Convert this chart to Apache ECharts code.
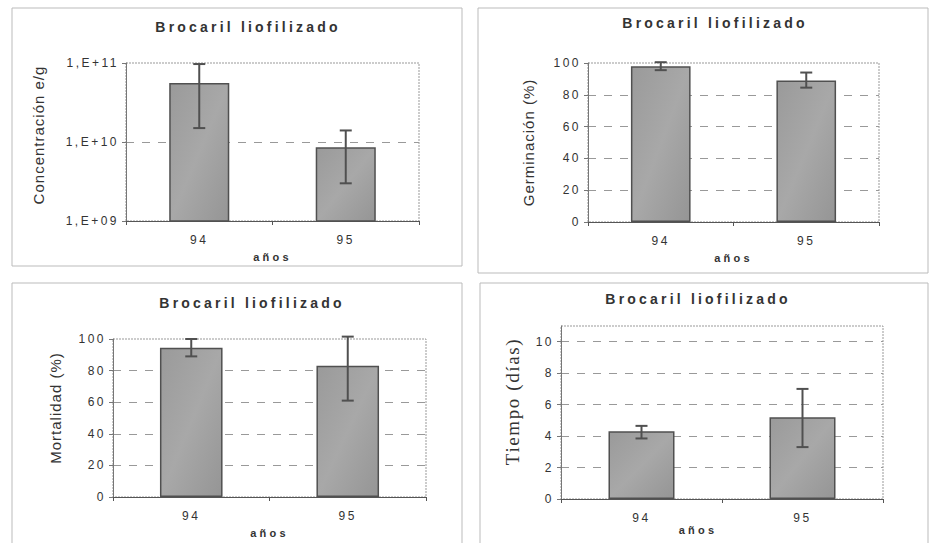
<!DOCTYPE html>
<html>
<head>
<meta charset="utf-8">
<script src="https://cdn.jsdelivr.net/npm/echarts@6/dist/echarts.min.js"></script>
<style>
html,body{margin:0;padding:0;background:#fff}
#c{width:930px;height:543px}
#c svg text{letter-spacing:2.5px}
#c svg text[style*="15px"]{letter-spacing:1px}
#c svg text[style*="bold"]{letter-spacing:3.2px}
#c svg text[style*="Serif"]{letter-spacing:1.6px}
</style>
</head>
<body>
<div id="c"></div>
<script>
// ---- data ----
const years = ['94', '95'];
const titleText = 'Brocaril liofilizado';
const xName = 'años';

const concentration = [5.6e10, 8.6e9];
const concLow = [1.5e10, 3.0e9];
const concHigh = [9.7e10, 1.4e10];

const germination = [98, 89];
const germLow = [95.5, 84.5];
const germHigh = [100.5, 94];

const mortality = [94.5, 83];
const mortLow = [89, 61];
const mortHigh = [100, 101.5];

const tiempo = [4.3, 5.2];
const tiempoLow = [3.85, 3.3];
const tiempoHigh = [4.65, 7.0];

// ---- styles ----
const labelFont = 'Liberation Sans';
const barStyle = {
  color: {
    type: 'linear', x: 0, y: 0, x2: 1, y2: 1,
    colorStops: [{offset: 0, color: '#9a9a9a'}, {offset: 0.5, color: '#a8a8a8'}, {offset: 1, color: '#959595'}]
  },
  borderColor: '#505050', borderWidth: 1.5
};

function errRender(params, api) {
  const x = api.value(0), lo = api.value(1), hi = api.value(2);
  const a = api.coord([x, lo]), b = api.coord([x, hi]);
  const w = 6;
  const st = {stroke: '#505050', lineWidth: 2};
  return {
    type: 'group',
    children: [
      {type: 'line', shape: {x1: a[0], y1: a[1], x2: b[0], y2: b[1]}, style: st},
      {type: 'line', shape: {x1: a[0] - w, y1: a[1], x2: a[0] + w, y2: a[1]}, style: st},
      {type: 'line', shape: {x1: b[0] - w, y1: b[1], x2: b[0] + w, y2: b[1]}, style: st}
    ]
  };
}

const grids = [
  {left: 126, top: 63, width: 293, height: 158},
  {left: 588, top: 63, width: 291, height: 159},
  {left: 113, top: 339, width: 313, height: 158},
  {left: 561, top: 326, width: 322, height: 173}
];

function xAxisFor(i, namePad) {
  return {
    type: 'category', gridIndex: i, data: years,
    name: xName, nameLocation: 'middle', nameGap: i === 3 ? 19 : 30,
    nameTextStyle: {fontFamily: labelFont, fontWeight: 'bold', fontSize: 11, color: '#333', padding: namePad || 0},
    axisLine: {lineStyle: {color: '#555', width: 1}},
    axisTick: {show: true, length: 4, lineStyle: {color: '#555'}},
    axisLabel: {fontFamily: labelFont, fontSize: 12, color: '#333', margin: 13}
  };
}
function yAxisFor(i, name, gap, nameStyle, extra) {
  return Object.assign({
    type: 'value', gridIndex: i,
    name: name, nameLocation: 'middle', nameGap: gap,
    nameTextStyle: Object.assign({fontFamily: labelFont, fontSize: 15, color: '#333'}, nameStyle),
    axisLine: {show: true, lineStyle: {color: '#777'}},
    axisTick: {show: true, length: 4, lineStyle: {color: '#777'}},
    axisLabel: {fontFamily: labelFont, fontSize: 12, color: '#333', margin: 7},
    splitLine: {show: true, showMinLine: false, showMaxLine: false, lineStyle: {color: '#999', type: [8, 8], width: 1}}
  }, extra);
}

const option = {
  animation: false,
  backgroundColor: '#fff',
  grid: grids.map(g => Object.assign({containLabel: false}, g)),
  xAxis: [xAxisFor(0), xAxisFor(1), xAxisFor(2), xAxisFor(3, [0, 48, 0, 0])],
  yAxis: [
    yAxisFor(0, 'Concentración e/g', 80, {padding: [0, 0, 0, 14]}, {
      type: 'log', logBase: 10, min: 1e9, max: 1e11,
      axisLabel: {fontFamily: labelFont, fontSize: 12, color: '#333', margin: 7,
        formatter: v => '1,E+' + String(Math.round(Math.log10(v))).padStart(2, '0')}
    }),
    yAxisFor(1, 'Germinación (%)', 52, {}, {min: 0, max: 100, interval: 20}),
    yAxisFor(2, 'Mortalidad (%)', 50, {padding: [0, 0, 0, 20]}, {min: 0, max: 100, interval: 20}),
    yAxisFor(3, 'Tiempo (días)', 39, {fontFamily: 'Liberation Serif', fontSize: 19, padding: [0, 0, 0, 22]}, {
      min: 0, max: 11, interval: 2,
      axisLabel: {fontFamily: labelFont, fontSize: 12, color: '#333', margin: 7, showMaxLabel: false}})
  ],
  series: [
    {type: 'bar', xAxisIndex: 0, yAxisIndex: 0, data: concentration, barCategoryGap: '59%', itemStyle: barStyle},
    {type: 'bar', xAxisIndex: 1, yAxisIndex: 1, data: germination, barCategoryGap: '59%', itemStyle: barStyle},
    {type: 'bar', xAxisIndex: 2, yAxisIndex: 2, data: mortality, barCategoryGap: '60%', itemStyle: barStyle},
    {type: 'bar', xAxisIndex: 3, yAxisIndex: 3, data: tiempo, barCategoryGap: '59%', itemStyle: barStyle},
    {type: 'custom', xAxisIndex: 0, yAxisIndex: 0, renderItem: errRender, clip: false, z: 5,
      data: years.map((y, i) => [i, concLow[i], concHigh[i]])},
    {type: 'custom', xAxisIndex: 1, yAxisIndex: 1, renderItem: errRender, clip: false, z: 5,
      data: years.map((y, i) => [i, germLow[i], germHigh[i]])},
    {type: 'custom', xAxisIndex: 2, yAxisIndex: 2, renderItem: errRender, clip: false, z: 5,
      data: years.map((y, i) => [i, mortLow[i], mortHigh[i]])},
    {type: 'custom', xAxisIndex: 3, yAxisIndex: 3, renderItem: errRender, clip: false, z: 5,
      data: years.map((y, i) => [i, tiempoLow[i], tiempoHigh[i]])}
  ],
  graphic: [
    // panel frames
    {type: 'rect', shape: {x: 12, y: 8, width: 450, height: 258}, style: {fill: 'none', stroke: '#bbb', lineWidth: 1}, z: -10},
    {type: 'rect', shape: {x: 478, y: 8, width: 450, height: 265}, style: {fill: 'none', stroke: '#bbb', lineWidth: 1}, z: -10},
    {type: 'rect', shape: {x: 12, y: 283, width: 450, height: 280}, style: {fill: 'none', stroke: '#bbb', lineWidth: 1}, z: -10},
    {type: 'rect', shape: {x: 480, y: 283, width: 448, height: 280}, style: {fill: 'none', stroke: '#bbb', lineWidth: 1}, z: -10}
  ].concat(grids.map(g => ({
    type: 'rect', shape: {x: g.left, y: g.top, width: g.width, height: g.height},
    style: {fill: 'none', stroke: '#999', lineWidth: 1, lineDash: [2, 1]}, z: -5
  }))).concat([
    [248, 27], [715, 23], [252, 303], [698, 299]
  ].map(p => ({
    type: 'text', x: p[0], y: p[1],
    style: {text: titleText, fill: '#333', font: 'bold 14px "Liberation Sans"', textAlign: 'center', textVerticalAlign: 'middle'}
  })))
};

const chart = echarts.init(document.getElementById('c'), null, {renderer: 'svg'});
chart.setOption(option);
</script>
</body>
</html>
